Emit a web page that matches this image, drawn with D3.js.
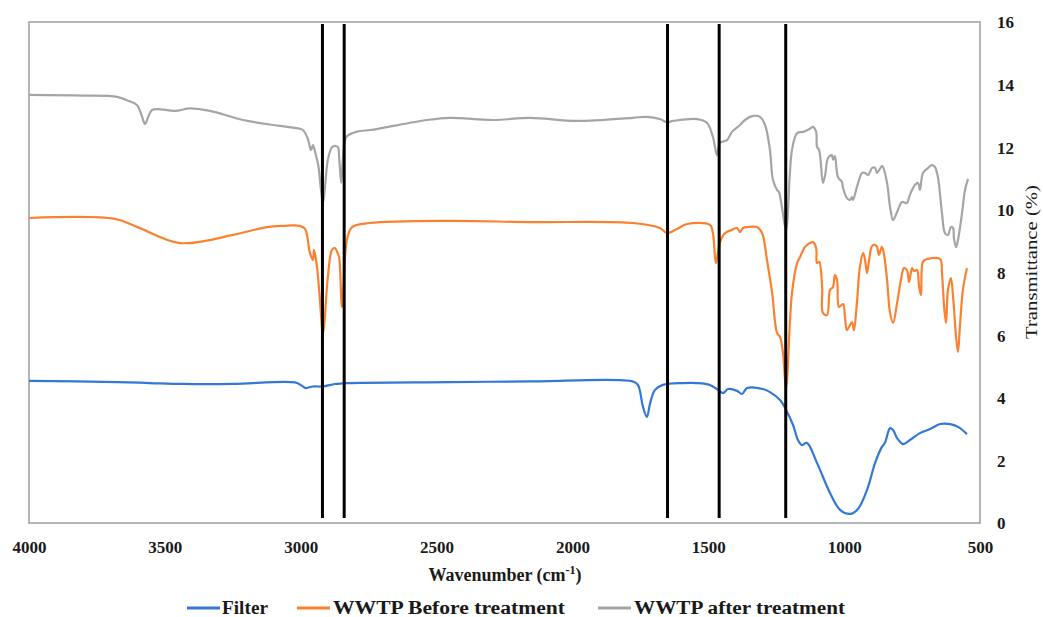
<!DOCTYPE html>
<html>
<head>
<meta charset="utf-8">
<script src="https://cdn.jsdelivr.net/npm/d3@7"></script>
<style>
  html, body { margin: 0; padding: 0; background: #fff; }
  svg { display: block; }
</style>
</head>
<body>
<svg id="chart" width="1043" height="617"></svg>
<script>
// FTIR spectra: wavenumber (cm-1) vs transmittance (%)
const seriesNames = ["Filter", "WWTP Before treatment", "WWTP after treatment"];
const seriesColors = ["#3378d4", "#f9812f", "#a5a5a5"];

const filterSpectrum = [
  [4000,4.54],[3676,4.5],[3555,4.47],[3433,4.44],[3249,4.44],[3021,4.49],[2995,4.38],[2981,4.31],
  [2955,4.36],[2918,4.36],[2874,4.44],[2830,4.47],[2451,4.5],[2156,4.52],[1777,4.52],[1759,4.41],
  [1740,3.7],[1726,3.39],[1714,3.83],[1696,4.25],[1667,4.41],[1593,4.47],[1541,4.47],[1494,4.41],
  [1464,4.25],[1446,4.15],[1427,4.28],[1394,4.22],[1376,4.12],[1357,4.31],[1299,4.28],[1273,4.18],
  [1236,3.93],[1214,3.62],[1188,3.13],[1170,2.65],[1155,2.49],[1137,2.56],[1100,1.92],[1052,0.96],
  [1015,0.42],[978,0.29],[949,0.45],[916,1.05],[886,1.92],[861,2.43],[850,2.56],[831,3.03],
  [820,2.97],[805,2.71],[783,2.52],[758,2.65],[721,2.87],[684,3.0],[647,3.16],[610,3.16],
  [581,3.07],[548,2.84]
];

const beforeSpectrum = [
  [4000,9.74],[3684,9.71],[3600,9.45],[3444,8.94],[3249,9.2],[3124,9.45],[3065,9.49],[3003,9.49],
  [2984,9.39],[2966,8.62],[2955,8.4],[2951,8.72],[2940,8.18],[2930,7.2],[2918,6.07],[2900,7.86],
  [2885,8.72],[2874,8.78],[2866,8.66],[2859,8.5],[2848,6.9],[2830,9.04],[2811,9.45],[2745,9.58],
  [2451,9.65],[2156,9.61],[1777,9.58],[1678,9.42],[1652,9.26],[1615,9.39],[1578,9.55],[1494,9.52],
  [1483,9.26],[1472,8.3],[1457,8.97],[1438,9.26],[1413,9.36],[1394,9.42],[1383,9.29],[1372,9.42],
  [1354,9.45],[1321,9.45],[1302,9.26],[1284,8.4],[1265,7.35],[1247,6.07],[1236,5.94],[1225,5.43],
  [1214,4.31],[1192,7.35],[1173,8.3],[1162,8.5],[1144,8.82],[1126,8.94],[1115,8.97],[1103,8.78],
  [1100,8.3],[1092,8.34],[1081,7.54],[1078,6.71],[1063,6.64],[1052,7.44],[1041,7.54],[1034,7.92],
  [1026,7.76],[1019,6.9],[1004,6.99],[997,6.58],[990,6.16],[982,6.26],[971,6.42],[964,6.16],
  [953,7.03],[942,8.18],[930,8.62],[923,8.4],[916,7.98],[908,8.4],[897,8.85],[886,8.88],
  [879,8.82],[872,8.56],[861,8.82],[853,8.56],[842,7.76],[831,6.71],[820,6.39],[805,7.03],
  [791,7.76],[780,8.14],[769,8.08],[761,7.7],[750,8.14],[743,8.05],[732,8.08],[724,7.54],
  [717,7.28],[710,8.34],[695,8.43],[647,8.43],[640,7.98],[632,6.9],[625,6.39],[618,7.44],
  [607,7.82],[599,7.22],[588,5.94],[581,5.46],[574,6.26],[563,7.44],[548,8.14]
];

const afterSpectrum = [
  [4000,13.67],[3800,13.65],[3676,13.61],[3640,13.5],[3603,13.35],[3585,13.0],[3573,12.74],[3560,13.0],
  [3547,13.19],[3525,13.22],[3463,13.16],[3407,13.24],[3334,13.16],[3212,12.87],[3076,12.68],[3003,12.59],
  [2992,12.55],[2975,12.3],[2962,11.91],[2955,12.07],[2947,11.85],[2935,11.4],[2925,10.6],[2918,10.22],
  [2910,10.8],[2900,11.6],[2885,12.0],[2870,12.04],[2863,12.0],[2858,11.6],[2851,10.86],[2845,11.6],
  [2838,12.2],[2830,12.35],[2793,12.5],[2745,12.55],[2697,12.62],[2535,12.87],[2451,12.94],[2292,12.87],
  [2156,12.94],[1983,12.84],[1777,12.94],[1726,12.97],[1678,12.9],[1652,12.8],[1630,12.84],[1541,12.9],
  [1505,12.78],[1483,12.33],[1468,11.75],[1457,12.14],[1431,12.23],[1413,12.49],[1383,12.71],[1365,12.87],
  [1335,13.0],[1310,12.97],[1291,12.71],[1273,11.91],[1262,10.96],[1247,10.64],[1240,10.57],[1229,10.09],
  [1214,9.36],[1192,11.91],[1173,12.45],[1151,12.49],[1126,12.59],[1115,12.65],[1103,12.49],[1100,12.01],
  [1092,11.91],[1078,10.86],[1070,11.11],[1059,11.66],[1045,11.75],[1041,11.6],[1034,11.72],[1023,11.05],
  [1008,10.89],[1004,10.7],[990,10.38],[978,10.32],[971,10.41],[967,10.32],[953,10.73],[934,11.18],
  [923,11.18],[912,11.11],[897,11.34],[886,11.34],[879,11.18],[861,11.4],[857,11.37],[842,10.86],
  [831,10.09],[820,9.68],[805,9.93],[787,10.25],[769,10.22],[758,10.48],[739,10.8],[728,10.86],
  [721,10.64],[710,11.18],[695,11.31],[677,11.43],[666,11.37],[655,11.05],[640,9.9],[629,9.26],
  [618,9.2],[607,9.45],[599,9.42],[596,9.1],[588,8.81],[581,9.04],[566,9.9],[555,10.64],[544,10.99]
];

// Marked absorption bands (cm-1)
const bandMarkers = [2920, 2840, 1650, 1460, 1215];

const xTicks = [4000, 3500, 3000, 2500, 2000, 1500, 1000, 500];
const yTicks = [0, 2, 4, 6, 8, 10, 12, 14, 16];

const svg = d3.select("#chart");
const plot = { left: 29, right: 980, top: 22, bottom: 523 };

const x = d3.scaleLinear().domain([4000, 500]).range([plot.left, plot.right]);
const y = d3.scaleLinear().domain([0, 16]).range([plot.bottom, plot.top]);

const serif = "'Liberation Serif', 'DejaVu Serif', serif";

// plot frame
svg.append("rect")
  .attr("x", plot.left).attr("y", plot.top)
  .attr("width", plot.right - plot.left).attr("height", plot.bottom - plot.top)
  .attr("fill", "none").attr("stroke", "#a3a3a3").attr("stroke-width", 1.6);

// x axis labels
const xAxis = d3.axisBottom(x).tickValues(xTicks).tickFormat(d3.format("d")).tickSize(0).tickPadding(0);
const gx = svg.append("g").attr("transform", `translate(0,${plot.bottom + 30})`).call(xAxis);
gx.select(".domain").remove();
gx.selectAll("text")
  .attr("dy", 0)
  .style("font-family", serif).style("font-size", "17px").style("font-weight", "bold")
  .attr("fill", "#1a1a1a");

// y axis labels on the right
const yAxis = d3.axisRight(y).tickValues(yTicks).tickFormat(d3.format("d")).tickSize(0).tickPadding(0);
const gy = svg.append("g").attr("transform", `translate(${plot.right + 17},0)`).call(yAxis);
gy.select(".domain").remove();
gy.selectAll("text")
  .attr("dy", "0.35em")
  .style("font-family", serif).style("font-size", "17px").style("font-weight", "bold")
  .attr("fill", "#1a1a1a");

// axis titles
const xTitle = svg.append("text")
  .attr("x", 505).attr("y", 581)
  .attr("text-anchor", "middle")
  .style("font-family", serif).style("font-size", "18px").style("font-weight", "bold")
  .attr("fill", "#1a1a1a");
xTitle.append("tspan").text("Wavenumber (cm");
xTitle.append("tspan").attr("dy", -7).style("font-size", "12px").text("-1");
xTitle.append("tspan").attr("dy", 7).text(")");

svg.append("text")
  .attr("transform", `translate(1037,${262}) rotate(-90)`)
  .attr("text-anchor", "middle")
  .attr("textLength", 154).attr("lengthAdjust", "spacingAndGlyphs")
  .style("font-family", serif).style("font-size", "17px")
  .attr("fill", "#1a1a1a")
  .text("Transmittance (%)");

// spectra
const line = d3.line()
  .x(d => x(d[0]))
  .y(d => y(d[1]))
  .curve(d3.curveCatmullRom.alpha(0.5));

const spectra = [filterSpectrum, beforeSpectrum, afterSpectrum];
svg.append("g").selectAll("path")
  .data(spectra)
  .join("path")
  .attr("d", line)
  .attr("fill", "none")
  .attr("stroke", (d, i) => seriesColors[i])
  .attr("stroke-width", 2.2)
  .attr("stroke-linejoin", "round");

// band marker lines
svg.append("g").selectAll("line")
  .data(bandMarkers)
  .join("line")
  .attr("x1", d => x(d)).attr("x2", d => x(d))
  .attr("y1", plot.top + 2).attr("y2", plot.bottom - 5)
  .attr("stroke", "#000").attr("stroke-width", 3);

// legend
const legendItems = [
  { lineX: 187, textX: 222, width: 46 },
  { lineX: 297, textX: 333, width: 232 },
  { lineX: 598, textX: 634, width: 211 }
];
const legend = svg.append("g");
legendItems.forEach((it, i) => {
  legend.append("line")
    .attr("x1", it.lineX).attr("x2", it.lineX + 33)
    .attr("y1", 608).attr("y2", 608)
    .attr("stroke", seriesColors[i]).attr("stroke-width", 3);
  legend.append("text")
    .attr("x", it.textX).attr("y", 614)
    .attr("textLength", it.width).attr("lengthAdjust", "spacingAndGlyphs")
    .style("font-family", serif).style("font-size", "18px").style("font-weight", "bold")
    .attr("fill", "#1a1a1a")
    .text(seriesNames[i]);
});
</script>
</body>
</html>
